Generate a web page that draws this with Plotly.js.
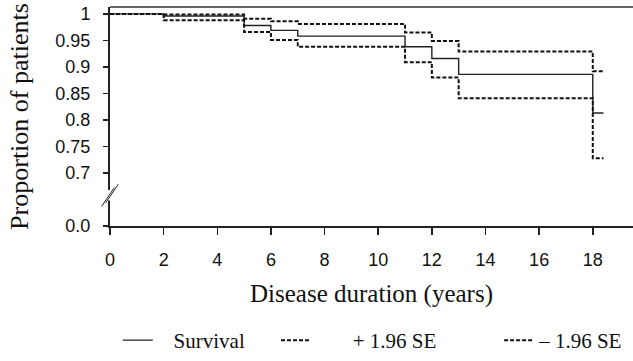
<!DOCTYPE html>
<html>
<head>
<meta charset="utf-8">
<script src="https://cdn.plot.ly/plotly-3.0.1.min.js"></script>
<style>html,body{margin:0;padding:0;background:#fff;}#chart{width:633px;height:361px;}</style>
</head>
<body>
<div id="chart"></div>
<script>
// Event times (years) and step values
const times = [0, 2, 5, 6, 7, 11, 12, 13, 18];
const lastTime = 18.4;
const survival = [1.0, 0.996, 0.978, 0.969, 0.958, 0.938, 0.916, 0.886, 0.813];
const upperSE = [1.0, 0.999, 0.991, 0.986, 0.981, 0.965, 0.949, 0.929, 0.892];
const lowerSE = [1.0, 0.988, 0.966, 0.951, 0.938, 0.909, 0.880, 0.841, 0.728];
const seriesNames = ["Survival", "+ 1.96 SE", "\u2013 1.96 SE"];
const xTicks = [0, 2, 4, 6, 8, 10, 12, 14, 16, 18];
const yTickVals = [0.6, 0.7, 0.75, 0.8, 0.85, 0.9, 0.95, 1.0];
const yTickText = ["0.0", "0.7", "0.75", "0.8", "0.85", "0.9", "0.95", "1"];

const NB = "\u00a0";
function pad(n) { return NB.repeat(n); }
const legendLabels = [pad(3) + seriesNames[0] + pad(5), pad(7) + seriesNames[1] + pad(11), seriesNames[2]];

function stepX() { return times.concat([lastTime]); }
function stepY(v) { return v.concat([v[v.length - 1]]); }

const traces = [
  {x: stepX(), y: stepY(survival), name: legendLabels[0], mode: "lines",
   line: {shape: "hv", color: "#222", width: 1.4}},
  {x: stepX(), y: stepY(upperSE), name: legendLabels[1], mode: "lines",
   line: {shape: "hv", color: "#111", width: 2, dash: "4px,2px"}},
  {x: stepX(), y: stepY(lowerSE), name: legendLabels[2], mode: "lines",
   line: {shape: "hv", color: "#111", width: 2, dash: "4px,2px"}}
];

const serif = "Liberation Serif, Times New Roman, serif";
const sans = "Liberation Sans, Arial, sans-serif";

const layout = {
  width: 633, height: 361,
  margin: {l: 110, r: 0, t: 7, b: 130},
  paper_bgcolor: "#fff", plot_bgcolor: "#fff",
  showlegend: true,
  legend: {orientation: "h", x: 0.015, xanchor: "left", y: -0.43, yanchor: "top",
           font: {family: serif, size: 21, color: "#111"}, itemwidth: 30},
  xaxis: {range: [0, 19.5], tickvals: xTicks, ticktext: xTicks.map(String),
          showgrid: false, zeroline: false, showline: true, linecolor: "#222", linewidth: 2,
          ticks: "outside", ticklen: 7, tickwidth: 1.5, tickcolor: "#222", ticklabelstandoff: 9,
          tickfont: {family: sans, size: 18, color: "#111"},
          title: {text: "Disease duration (years)", font: {family: serif, size: 25, color: "#111"}, standoff: 16}},
  xaxis2: {overlaying: "x", matches: "x", range: [0, 19.5], tickvals: xTicks, showticklabels: false,
           showgrid: false, zeroline: false, showline: false,
           ticks: "inside", ticklen: 7, tickwidth: 1.5, tickcolor: "#222"},
  yaxis: {range: [0.6, 1.013], tickvals: yTickVals, ticktext: yTickText,
          showgrid: false, zeroline: false, showline: true, linecolor: "#222", linewidth: 2,
          ticks: "outside", ticklen: 5, tickwidth: 1.5, tickcolor: "#222", ticklabelstandoff: 9,
          tickfont: {family: sans, size: 18, color: "#111"},
          title: {text: "Proportion of patients", font: {family: serif, size: 26, color: "#111"}, standoff: 19}},
  yaxis2: {overlaying: "y", matches: "y", range: [0.6, 1.013], tickvals: yTickVals, showticklabels: false,
           showgrid: false, zeroline: false, showline: false,
           ticks: "inside", ticklen: 5, tickwidth: 1.5, tickcolor: "#222"},
  shapes: [
    {type: "line", xref: "paper", yref: "paper", x0: 0, x1: 1, y0: 1, y1: 1,
     line: {color: "#666", width: 2}},
    {type: "rect", xref: "paper", yref: "y", x0: -0.006, x1: 0.006, y0: 0.648, y1: 0.668,
     fillcolor: "#fff", line: {width: 0}, layer: "above"},
    {type: "line", xref: "paper", yref: "y", x0: -0.016, x1: 0.008, y0: 0.637, y1: 0.672,
     line: {color: "#222", width: 1}},
    {type: "line", xref: "paper", yref: "y", x0: -0.008, x1: 0.016, y0: 0.644, y1: 0.679,
     line: {color: "#222", width: 1}}
  ]
};

Plotly.newPlot("chart", traces, layout, {displayModeBar: false, staticPlot: true});
</script>
</body>
</html>
